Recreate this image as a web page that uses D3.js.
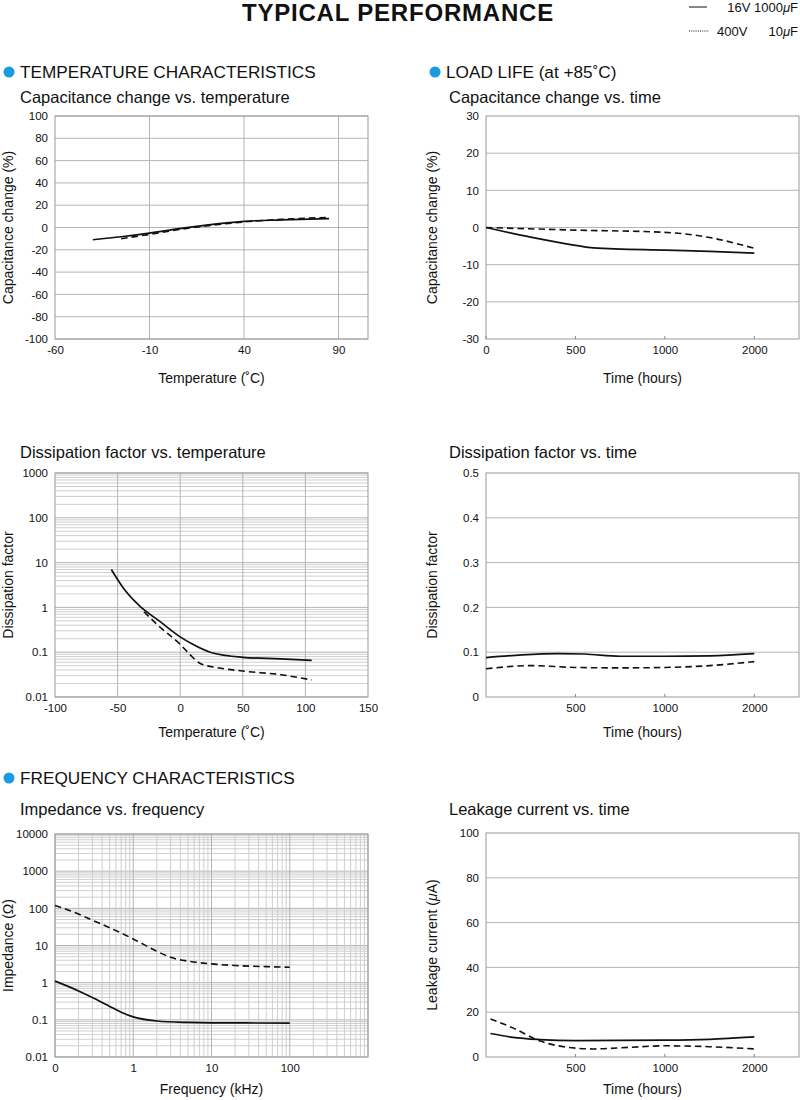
<!DOCTYPE html>
<html>
<head>
<meta charset="utf-8">
<script src="https://cdn.jsdelivr.net/npm/d3@7"></script>
<style>
body { margin: 0; background: #fff; }
text { font-family: "Liberation Sans", Arial, Helvetica, sans-serif; fill: #111; }
</style>
</head>
<body>
<script>
// ---- data ----
// Capacitance change (%) vs temperature (°C)
var capTempSolid = [[-40,-11],[-25,-8.3],[-10,-5],[5,-1.2],[20,2.2],[40,5.5],[60,6.8],[85,8]];
var capTempDash  = [[-25,-10],[-10,-6.2],[5,-2],[20,1.4],[40,5],[60,7.3],[85,9]];

// Capacitance change (%) vs time (hours), load life
var capTimeSolid = [[0,0],[250,-2.6],[500,-4.8],[600,-5.5],[1000,-6.1],[1500,-6.4],[2000,-6.9]];
var capTimeDash  = [[0,0],[500,-0.7],[1000,-1.3],[1500,-2.7],[2000,-5.6]];

// Dissipation factor vs temperature (°C)
var dfTempSolid = [[-55,7],[-45,2.6],[-32,1.05],[-16,0.48],[0,0.22],[10,0.15],[24,0.1],[50,0.077],[80,0.071],[105,0.066]];
var dfTempDash  = [[-29,0.8],[-16,0.36],[0,0.15],[8,0.087],[16,0.056],[30,0.045],[50,0.038],[82,0.031],[105,0.024]];

// Dissipation factor vs time (hours)
var dfTimeSolid = [[0,0.088],[200,0.094],[400,0.097],[550,0.096],[750,0.091],[1000,0.091],[1500,0.092],[2000,0.097]];
var dfTimeDash  = [[0,0.063],[250,0.07],[500,0.066],[750,0.065],[1000,0.066],[1500,0.07],[2000,0.079]];

// Impedance (ohm) vs frequency (kHz)
var impSolid = [[0.1,1.1],[0.2,0.6],[0.3,0.4],[0.5,0.23],[0.7,0.16],[1,0.12],[2,0.093],[5,0.085],[10,0.083],[100,0.082]];
var impDash  = [[0.1,120],[0.2,70],[0.3,48],[0.5,30],[1,15],[2,7],[3,4.8],[5,3.8],[10,3.2],[20,2.9],[50,2.7],[100,2.6]];

// Leakage current (uA) vs time (hours)
var leakSolid = [[25,10.5],[150,8.8],[300,7.8],[500,7.3],[1000,7.5],[1500,7.9],[2000,9]];
var leakDash  = [[25,17],[150,13],[300,7.2],[450,4.4],[600,3.6],[800,4.3],[1000,5],[1500,4.6],[2000,3.6]];

// tick labels
var tempTicks1 = [-60, -10, 40, 90];
var capTicks1 = [-100, -80, -60, -40, -20, 0, 20, 40, 60, 80, 100];
var tempTicks2 = [-100, -50, 0, 50, 100, 150];
var logTicksDF = [0.01, 0.1, 1, 10, 100, 1000];
var logTicksZ = [0.01, 0.1, 1, 10, 100, 1000, 10000];
var freqTicks = [0.1, 1, 10, 100];
var freqLabels = ["0", "1", "10", "100"];
var hourBreaks = [0, 500, 1000, 2000, 2500];   // time axis is spaced as categories
var hourTicksA = [0, 500, 1000, 2000];
var hourTicksB = [500, 1000, 2000];

var svg = d3.select("body").append("svg")
    .attr("width", 800)
    .attr("height", 1100);

// time axis: 0,500,1000,2000 equally spaced
function hourScale(w) {
    var step = w / 3.5;
    return d3.scaleLinear().domain(hourBreaks).range([0, step, 2 * step, 3 * step, w]);
}

function panel(o) {
    var w = o.width, h = o.height;
    var g = svg.append("g").attr("transform", `translate(${o.left},${o.top})`);
    var x = o.fixedX ? o.x : o.x.range([0, w]);
    var y = o.y.range([h, 0]);

    // horizontal grid
    g.append("g").selectAll("line")
        .data(o.yGrid)
        .enter().append("line")
        .attr("x1", 0).attr("x2", w)
        .attr("y1", d => y(d)).attr("y2", d => y(d))
        .attr("stroke", d => o.isMajorY && !o.isMajorY(d) ? "#cacaca" : "#adadad")
        .attr("stroke-width", 0.9);

    // vertical grid
    g.append("g").selectAll("line")
        .data(o.xGrid || [])
        .enter().append("line")
        .attr("y1", 0).attr("y2", h)
        .attr("x1", d => x(d)).attr("x2", d => x(d))
        .attr("stroke", d => o.isMajorX && !o.isMajorX(d) ? "#cacaca" : "#adadad")
        .attr("stroke-width", 0.9);

    // frame
    g.append("rect")
        .attr("width", w).attr("height", h)
        .attr("fill", "none").attr("stroke", "#9a9a9a").attr("stroke-width", 1);

    // axes
    var leftAxis = d3.axisLeft(y).tickValues(o.yTicks).tickSize(0).tickPadding(7)
        .tickFormat(o.yFormat || (d => d));
    var yAxisG = g.append("g").call(leftAxis);
    yAxisG.select(".domain").remove();
    yAxisG.selectAll("text").style("font-size", "11.5px").attr("fill", "#222");

    var bottomAxis = d3.axisBottom(x).tickValues(o.xTicks).tickSize(0).tickPadding(7)
        .tickFormat(o.xFormat || (d => d));
    var xAxisG = g.append("g").attr("transform", `translate(0,${h})`).call(bottomAxis);
    xAxisG.select(".domain").remove();
    xAxisG.selectAll("text").style("font-size", "11.5px").attr("fill", "#222");

    if (o.innerTicks) {
        g.append("g").selectAll("line")
            .data(o.xTicks)
            .enter().append("line")
            .attr("x1", d => x(d)).attr("x2", d => x(d))
            .attr("y1", h).attr("y2", h - 3)
            .attr("stroke", "#888");
    }

    // curves
    var line = d3.line()
        .x(d => x(d[0]))
        .y(d => y(d[1]))
        .curve(d3.curveMonotoneX);

    g.append("path").datum(o.solid)
        .attr("d", line).attr("fill", "none")
        .attr("stroke", "#111").attr("stroke-width", 1.7);
    g.append("path").datum(o.dash)
        .attr("d", line).attr("fill", "none")
        .attr("stroke", "#111").attr("stroke-width", 1.6)
        .attr("stroke-dasharray", "6.5,4");

    // titles
    g.append("text")
        .attr("x", w / 2).attr("y", h + o.xTitleDy)
        .attr("text-anchor", "middle")
        .style("font-size", "14px")
        .text(o.xTitle);
    g.append("text")
        .attr("transform", `translate(${o.yTitleX},${h / 2}) rotate(-90)`)
        .attr("text-anchor", "middle")
        .style("font-size", "14px")
        .html(o.yTitle);
}

function isDecade(v) {
    var l = Math.log10(v);
    return Math.abs(l - Math.round(l)) < 1e-6;
}

// ---- header ----
svg.append("text")
    .attr("x", 398).attr("y", 21)
    .attr("text-anchor", "middle")
    .style("font-size", "24px").style("font-weight", "bold")
    .style("letter-spacing", "0.8px")
    .text("TYPICAL PERFORMANCE");

svg.append("line").attr("x1", 689).attr("x2", 707).attr("y1", 7).attr("y2", 7)
    .attr("stroke", "#111").attr("stroke-width", 1);
svg.append("text").attr("x", 798).attr("y", 12).attr("text-anchor", "end")
    .style("font-size", "13px")
    .html('16V 1000<tspan font-style="italic">μ</tspan>F');
svg.append("line").attr("x1", 689).attr("x2", 709).attr("y1", 31).attr("y2", 31)
    .attr("stroke", "#111").attr("stroke-width", 1).attr("stroke-dasharray", "1,1.2");
svg.append("text").attr("x", 717).attr("y", 36)
    .style("font-size", "13px").text("400V");
svg.append("text").attr("x", 798).attr("y", 36).attr("text-anchor", "end")
    .style("font-size", "13px")
    .html('10<tspan font-style="italic">μ</tspan>F');

// section headings
var headings = [
    {x: 9, y: 72, t: "TEMPERATURE CHARACTERISTICS"},
    {x: 435, y: 72, t: "LOAD LIFE (at +85˚C)"},
    {x: 9, y: 778, t: "FREQUENCY CHARACTERISTICS"}
];
headings.forEach(function(hd) {
    svg.append("circle").attr("cx", hd.x).attr("cy", hd.y).attr("r", 5.5).attr("fill", "#1a9be0");
    svg.append("text").attr("x", hd.x + 11).attr("y", hd.y + 6)
        .style("font-size", "17.2px").text(hd.t);
});

var subtitles = [
    {x: 20, y: 103, t: "Capacitance change vs. temperature"},
    {x: 449, y: 103, t: "Capacitance change vs. time"},
    {x: 20, y: 458, t: "Dissipation factor vs. temperature"},
    {x: 449, y: 458, t: "Dissipation factor vs. time"},
    {x: 20, y: 815, t: "Impedance vs. frequency"},
    {x: 449, y: 815, t: "Leakage current vs. time"}
];
subtitles.forEach(function(s) {
    svg.append("text").attr("x", s.x).attr("y", s.y)
        .style("font-size", "16.5px").text(s.t);
});

// ---- panels ----
var LW = 313, RW = 313;

panel({
    left: 55, top: 116, width: LW, height: 223,
    x: d3.scaleLinear().domain([-60, 105.6]),
    y: d3.scaleLinear().domain([-100, 100]),
    xTicks: tempTicks1, xGrid: tempTicks1.slice(1),
    yTicks: capTicks1, yGrid: capTicks1,
    solid: capTempSolid, dash: capTempDash,
    xTitle: "Temperature (˚C)", xTitleDy: 44,
    yTitle: "Capacitance change (%)", yTitleX: -42
});

panel({
    left: 486, top: 116, width: RW, height: 223,
    x: hourScale(RW), fixedX: true,
    y: d3.scaleLinear().domain([-30, 30]),
    xTicks: hourTicksA, innerTicks: true,
    yTicks: [-30, -20, -10, 0, 10, 20, 30], yGrid: [-20, -10, 0, 10, 20],
    solid: capTimeSolid, dash: capTimeDash,
    xTitle: "Time (hours)", xTitleDy: 44,
    yTitle: "Capacitance change (%)", yTitleX: -49
});

var dfY = d3.scaleLog().domain([0.01, 1000]);
panel({
    left: 55, top: 473, width: LW, height: 224,
    x: d3.scaleLinear().domain([-100, 150]),
    y: dfY,
    xTicks: tempTicks2, xGrid: [-50, 0, 50, 100],
    yTicks: logTicksDF, yGrid: dfY.ticks(), isMajorY: isDecade,
    yFormat: d => d,
    solid: dfTempSolid, dash: dfTempDash,
    xTitle: "Temperature (˚C)", xTitleDy: 40,
    yTitle: "Dissipation factor", yTitleX: -42
});

panel({
    left: 486, top: 473, width: RW, height: 224,
    x: hourScale(RW), fixedX: true,
    y: d3.scaleLinear().domain([0, 0.5]),
    xTicks: hourTicksB, innerTicks: true,
    yTicks: [0, 0.1, 0.2, 0.3, 0.4, 0.5], yGrid: [0.1, 0.2, 0.3, 0.4],
    solid: dfTimeSolid, dash: dfTimeDash,
    xTitle: "Time (hours)", xTitleDy: 40,
    yTitle: "Dissipation factor", yTitleX: -49
});

var zX = d3.scaleLog().domain([0.1, 1000]);
var zY = d3.scaleLog().domain([0.01, 10000]);
panel({
    left: 55, top: 834, width: LW, height: 223,
    x: zX, y: zY,
    xTicks: freqTicks, xFormat: (d, i) => freqLabels[i],
    xGrid: zX.ticks(), isMajorX: isDecade,
    yTicks: logTicksZ, yGrid: zY.ticks(), isMajorY: isDecade,
    solid: impSolid, dash: impDash,
    xTitle: "Frequency (kHz)", xTitleDy: 37,
    yTitle: "Impedance (Ω)", yTitleX: -42
});

panel({
    left: 486, top: 833, width: RW, height: 224,
    x: hourScale(RW), fixedX: true,
    y: d3.scaleLinear().domain([0, 100]),
    xTicks: hourTicksB, innerTicks: true,
    yTicks: [0, 20, 40, 60, 80, 100], yGrid: [20, 40, 60, 80],
    solid: leakSolid, dash: leakDash,
    xTitle: "Time (hours)", xTitleDy: 37,
    yTitle: 'Leakage current (<tspan font-style="italic">μ</tspan>A)', yTitleX: -49
});
</script>
</body>
</html>
